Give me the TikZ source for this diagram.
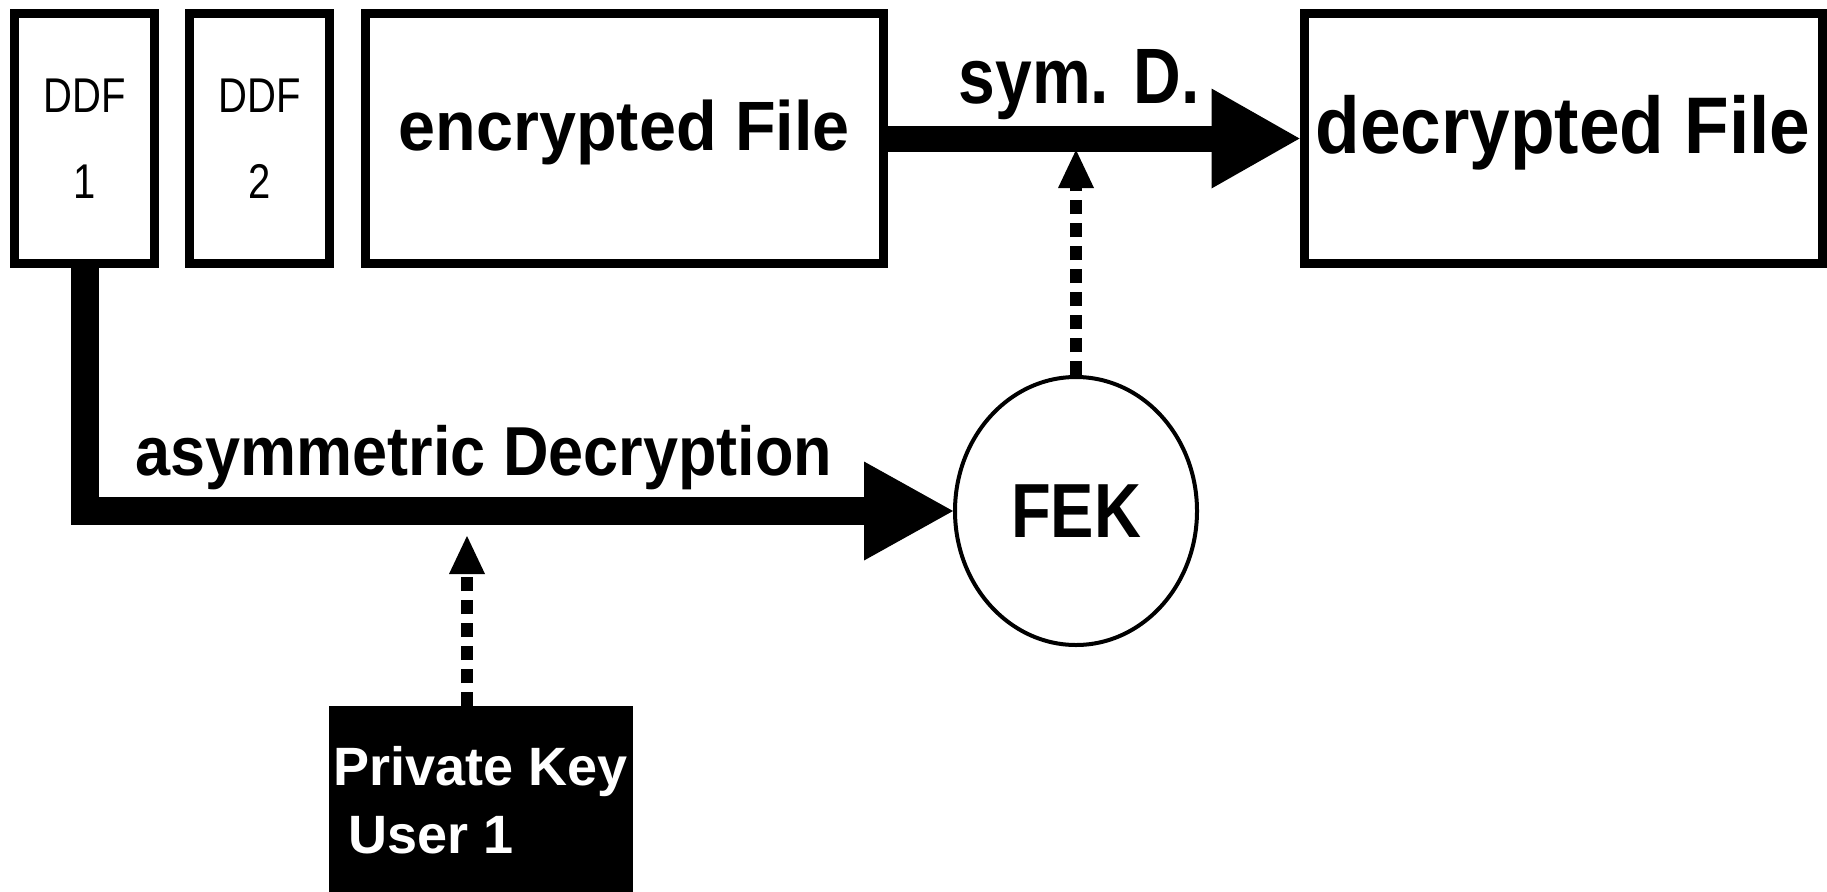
\documentclass[tikz,border=0pt]{standalone}
\usepackage{fontspec}
\usepackage{graphicx}
\setmainfont{Liberation Sans}
\usetikzlibrary{arrows.meta,shapes.geometric}
\newcommand{\vstretch}[2]{\scalebox{1}[#1]{#2}}
\begin{document}
\begin{tikzpicture}[x=1pt,y=-1pt,
  box/.style={draw, line width=9pt, inner sep=0pt, minimum height=250pt},
  ddfbox/.style={box, minimum width=140pt, align=center, font=\fontsize{40}{86}\selectfont},
  filebox/.style={box, minimum width=518pt},
  bigarrow/.style={line width=26pt, -{Triangle[length=88pt,width=100pt,line width=0pt]}},
  dotarrow/.style={line width=12pt, dash pattern=on 14pt off 9pt, -{Triangle[length=38pt,width=36pt,line width=0pt]}},
  lbl/.style={font=\bfseries\fontsize{64}{70}\selectfont, inner sep=0pt}]
\useasboundingbox (0,0) rectangle (1827,891);
\fill[white] (0,0) rectangle (1827,891);

\node[ddfbox] (ddf1) at (84.5,138.5) {\vstretch{1.22}{DDF}\\\vstretch{1.22}{1}};
\node[ddfbox] (ddf2) at (259.5,138.5) {\vstretch{1.22}{DDF}\\\vstretch{1.22}{2}};
\node[filebox, font=\bfseries\fontsize{66.5}{70}\selectfont, text height=55pt, text depth=32pt] (enc) at (624.3,138.5) {\vstretch{1.05}{encrypted File}};
\node[filebox, font=\bfseries\fontsize{73}{80}\selectfont, text height=60pt, text depth=31pt] (dec) at (1563,138.5) {\vstretch{1.1}{decrypted File}};
\node[draw, ellipse, line width=4pt, minimum width=242pt, minimum height=268pt, inner sep=0pt,
      font=\bfseries\fontsize{65}{70}\selectfont] (fek) at (1076,511) {\vstretch{1.18}{FEK}};
\node[fill=black, text=white, minimum width=304pt, minimum height=200pt, inner sep=0pt, anchor=north,
      font=\bfseries\fontsize{54}{68}\selectfont] (pk) at (481,706)
      {\raisebox{10pt}{\begin{tabular}{@{}l@{}}Private Key\\\ User 1\end{tabular}}};

\draw[bigarrow] (enc.east) -- node[lbl, font=\bfseries\fontsize{66}{70}\selectfont, anchor=base, pos=0.465, yshift=35pt] (lsym) {\vstretch{1.19}{sym. D.}} (dec.west);
\draw[line width=28pt, line join=miter, -{Triangle[length=89pt,width=99pt,line width=0pt]}]
  (ddf1.south) |- node[lbl, font=\bfseries\fontsize{63}{70}\selectfont, anchor=base, pos=0.73, yshift=36pt] (lasym) {\vstretch{1.1}{asymmetric Decryption}} (fek.west);

\coordinate (symtip) at (1076,150);
\draw[dotarrow] (fek.north) -- (symtip);
\coordinate (asymtip) at (467,536);
\draw[dotarrow] (asymtip |- pk.north) -- (asymtip);
\end{tikzpicture}
\end{document}
